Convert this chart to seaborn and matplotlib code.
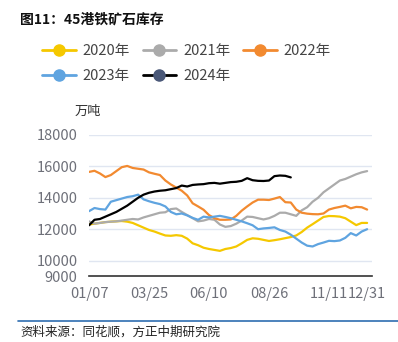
import numpy as np
import pandas as pd
import seaborn as sns
import matplotlib
matplotlib.use("Agg")
import matplotlib.pyplot as plt
from matplotlib.lines import Line2D

# ---- data (weekly, 万吨) ----
tick_labels = ["01/07", "03/25", "06/10", "08/26", "11/11", "12/31"]
tick_weeks = [0, 11, 22, 33, 44, 51]
y_ticks = [9000, 10000, 12000, 14000, 16000, 18000]

s2020 = [12300, 12350, 12400, 12450, 12480, 12500, 12520, 12480, 12400, 12250,
         12100, 11950, 11850, 11720, 11600, 11580, 11620, 11580, 11400, 11100,
         10980, 10820, 10740, 10680, 10620, 10740, 10800, 10900, 11100, 11320,
         11420, 11390, 11320, 11250, 11300, 11360, 11430, 11500, 11600, 11820,
         12100, 12320, 12550, 12780, 12840, 12830, 12800, 12700, 12480, 12260,
         12400, 12400]
s2021 = [12500, 12350, 12400, 12450, 12480, 12500, 12550, 12600, 12650, 12620,
         12750, 12850, 12950, 13050, 13080, 13280, 13320, 13100, 12900, 12700,
         12500, 12550, 12650, 12600, 12300, 12150, 12200, 12350, 12550, 12800,
         12780, 12700, 12620, 12700, 12850, 13050, 13050, 12950, 12850, 13200,
         13400, 13750, 14000, 14350, 14600, 14850, 15100, 15200, 15350, 15500,
         15620, 15700]
s2022 = [15650, 15720, 15550, 15320, 15450, 15700, 15950, 16030, 15900, 15850,
         15800, 15620, 15530, 15450, 15100, 14850, 14650, 14450, 14150, 13650,
         13450, 13240, 12900, 12700, 12600, 12600, 12620, 12850, 13180, 13450,
         13700, 13880, 13880, 13860, 13950, 14050, 13720, 13700, 13250, 13050,
         12990, 12960, 12950, 13000, 13250, 13350, 13420, 13500, 13330, 13420,
         13400, 13250]
s2023 = [13150, 13350, 13280, 13250, 13750, 13850, 13950, 14050, 14100, 14200,
         13900, 13780, 13680, 13600, 13450, 13100, 12950, 13000, 12880, 12720,
         12600, 12800, 12750, 12800, 12850, 12780, 12700, 12600, 12500, 12380,
         12250, 12000, 12050, 12080, 12120, 11950, 11850, 11650, 11400, 11150,
         10950, 10900, 11050, 11150, 11260, 11240, 11280, 11450, 11750, 11600,
         11850, 12000]
s2024 = [12250, 12600, 12650, 12800, 12950, 13100, 13300, 13500, 13750, 14000,
         14200, 14320, 14400, 14450, 14480, 14550, 14620, 14780, 14720, 14820,
         14850, 14870, 14930, 14950, 14900, 14950, 15000, 15020, 15080, 15250,
         15120, 15080, 15070, 15100, 15380, 15420, 15400, 15300]

years = ["2020年", "2021年", "2022年", "2023年", "2024年"]
series = [s2020, s2021, s2022, s2023, s2024]
colors = {"2020年": "#F5C800", "2021年": "#ABABAB", "2022年": "#F28A30",
          "2023年": "#5FA4E0", "2024年": "#000000"}
legend_marker = {"2020年": "#F5C800", "2021年": "#ABABAB", "2022年": "#F28A30",
                 "2023年": "#5FA4E0", "2024年": "#4A5878"}

rows = []
for yr, vals in zip(years, series):
    for w, v in enumerate(vals):
        rows.append({"week": w, "value": v, "year": yr})
df = pd.DataFrame(rows)

sns.set_theme(style="white")
plt.rcParams["font.family"] = ["Noto Sans CJK SC", "DejaVu Sans"]

fig = plt.figure(figsize=(3.98, 3.42), dpi=100)
ax = fig.add_axes([88.5 / 398, (342 - 276.3) / 342, (372.3 - 88.5) / 398, (276.3 - 135) / 342])

sns.lineplot(data=df, x="week", y="value", hue="year", palette=colors,
             hue_order=years, linewidth=1.6, legend=False, ax=ax)

ax.set_ylim(9000, 18000)
ax.set_xlim(-0.1, 51.95)
ax.set_yticks(y_ticks)
ax.set_yticklabels([str(v) for v in y_ticks])
for v in y_ticks[1:]:
    ax.axhline(v, color="#E0E6F1", lw=1.0, zorder=0)
ax.set_xticks(tick_weeks + [51.95])
ax.set_xticklabels(tick_labels + [""])
ax.set_xlabel("")
ax.set_ylabel("")
for s in ["top", "right", "left"]:
    ax.spines[s].set_visible(False)
ax.spines["bottom"].set_color("#333333")
ax.spines["bottom"].set_linewidth(1.2)
ax.tick_params(axis="x", direction="out", length=5, width=1.2, color="#333333",
               labelsize=10.5, labelcolor="#6E7079", pad=3)
ax.tick_params(axis="y", length=0, labelsize=10.5, labelcolor="#6E7079", pad=8)

# legend (row-wise order: 2020, 2021, 2022 / 2023, 2024)
order = ["2020年", "2023年", "2021年", "2024年", "2022年"]
handles = [Line2D([0], [0], color=colors[y], lw=2,
                  marker="o", markersize=8, markerfacecolor=legend_marker[y],
                  markeredgecolor=legend_marker[y]) for y in order]
leg = fig.legend(handles, order, loc="upper left", ncol=3,
                 bbox_to_anchor=(42 / 398, 1 - 44 / 342), frameon=False,
                 fontsize=10.5, handlelength=2.3, handletextpad=0.5,
                 columnspacing=0.85, labelspacing=0.75, borderpad=0, borderaxespad=0)
for t in leg.get_texts():
    t.set_color("#444444")

fig.text(20 / 398, 1 - 20 / 342, "图11：45港铁矿石库存", fontsize=10, fontweight="bold",
         color="#111111", ha="left", va="center")
fig.text(88 / 398, 1 - 111 / 342, "万吨", fontsize=9.5, color="#333333",
         ha="center", va="center")

fig.add_artist(Line2D([18 / 398, 1.0], [1 - 321 / 342] * 2, color="#2E6DB0", lw=1.2,
                      transform=fig.transFigure))
fig.text(20 / 398, 1 - 332 / 342, "资料来源：同花顺，方正中期研究院", fontsize=9,
         color="#222222", ha="left", va="center", style="italic")

fig.savefig("out.png", dpi=100)
